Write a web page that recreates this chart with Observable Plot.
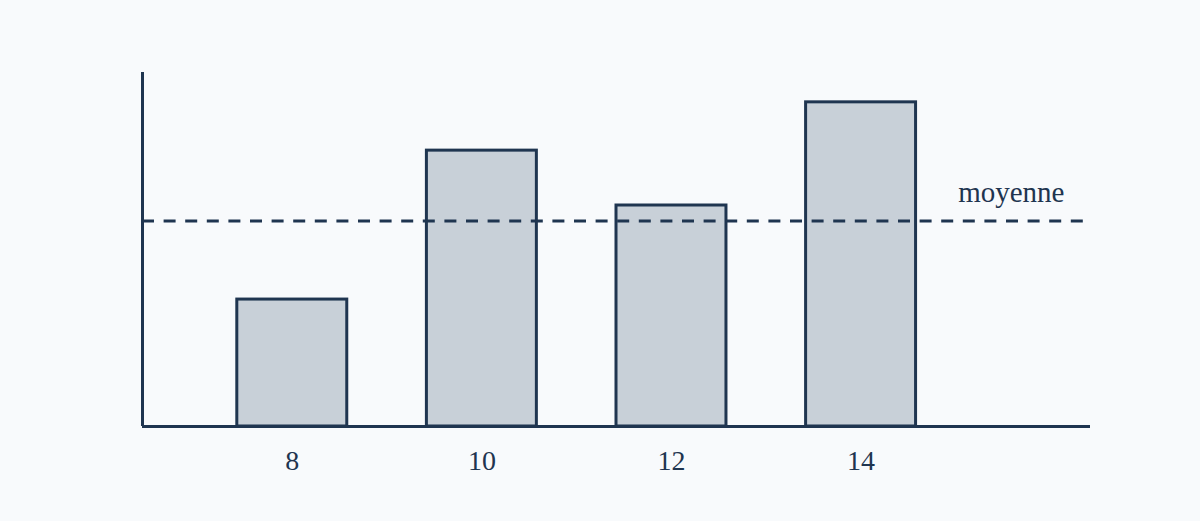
<!DOCTYPE html>
<html>
<head>
<meta charset="utf-8">
<script src="https://cdn.jsdelivr.net/npm/d3@7"></script>
<script src="https://cdn.jsdelivr.net/npm/@observablehq/plot@0.6"></script>
<style>
  html, body { margin: 0; padding: 0; background: #f8fafc; }
  #chart svg { display: block; }
</style>
</head>
<body>
<div id="chart"></div>
<script>
const categories = [8, 10, 12, 14];
const values = [5.02, 10.91, 8.74, 12.82];
const meanValue = 8.13;
const meanLabel = "moyenne";
const tickLabels = ["8", "10", "12", "14"];

const ink = "#1f3550";
const fill = "#c8d0d8";
const font = "'Liberation Serif', 'Times New Roman', serif";
const halfBar = 0.58;

const data = categories.map((c, i) => ({cat: c, value: values[i]}));

const chart = Plot.plot({
  width: 1200,
  height: 521,
  marginLeft: 142,
  marginRight: 110,
  marginTop: 72,
  marginBottom: 95,
  style: {background: "#f8fafc", fontFamily: font, color: ink},
  x: {domain: [6.42, 16.42]},
  y: {domain: [0, 14]},
  marks: [
    Plot.rectY(data, {
      x1: d => d.cat - halfBar,
      x2: d => d.cat + halfBar,
      y1: 0,
      y2: "value",
      fill: fill,
      stroke: ink,
      strokeWidth: 3
    }),
    Plot.ruleY([meanValue], {stroke: ink, strokeWidth: 3, strokeDasharray: "12 9.6"}),
    Plot.text([meanLabel], {
      frameAnchor: "right",
      y: () => meanValue,
      text: d => d,
      textAnchor: "end",
      lineAnchor: "bottom",
      dx: -26,
      dy: -18.5,
      fontSize: 29,
      fill: ink
    }),
    Plot.ruleY([0], {stroke: ink, strokeWidth: 3}),
    Plot.ruleX([6.42], {stroke: ink, strokeWidth: 3}),
    Plot.axisX({
      ticks: categories,
      tickFormat: d => tickLabels[categories.indexOf(d)],
      tickSize: 0,
      tickPadding: 24,
      fontSize: 28,
      fill: ink,
      label: null
    }),
    Plot.axisY({ticks: [], label: null})
  ]
});
document.getElementById("chart").appendChild(chart);
</script>
</body>
</html>
